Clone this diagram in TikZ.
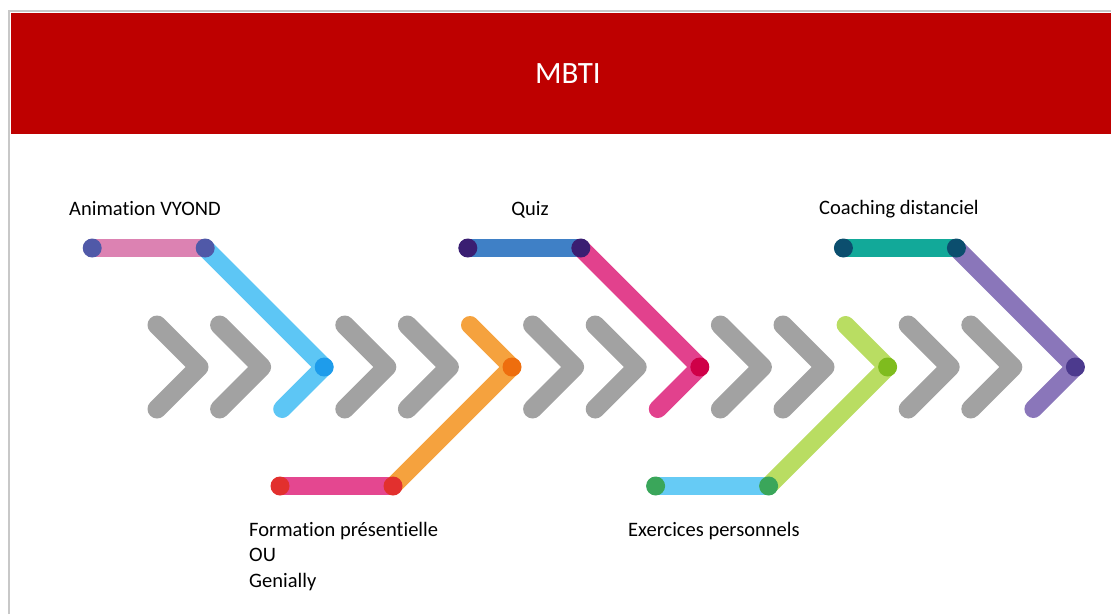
\documentclass[tikz,border=0pt]{standalone}
\usepackage{fontspec}
\setmainfont{Carlito}[Ligatures={NoCommon,NoContextual}]
\definecolor{titlered}{HTML}{BE0000}
\definecolor{framegray}{HTML}{C8C8C8}
\definecolor{chevgray}{HTML}{A2A2A2}
\definecolor{pinkA}{HTML}{DC82B2}
\definecolor{dotA}{HTML}{5059A8}
\definecolor{skyA}{HTML}{5DC6F5}
\definecolor{skyD}{HTML}{1E9CEB}
\definecolor{orangeA}{HTML}{F5A23E}
\definecolor{orangeD}{HTML}{EE6E0E}
\definecolor{magA}{HTML}{E44790}
\definecolor{dotB}{HTML}{E2302E}
\definecolor{blueC}{HTML}{3F80C6}
\definecolor{dotC}{HTML}{3A1E72}
\definecolor{pinkC}{HTML}{E2418D}
\definecolor{pinkD}{HTML}{CF0048}
\definecolor{greenA}{HTML}{B9DD62}
\definecolor{greenD}{HTML}{7FBC1E}
\definecolor{lblueA}{HTML}{66CBF5}
\definecolor{dotD}{HTML}{3AA65A}
\definecolor{tealA}{HTML}{12A999}
\definecolor{dotE}{HTML}{0B4E6E}
\definecolor{purpA}{HTML}{8A76BA}
\definecolor{purpD}{HTML}{4C3A8E}
\tikzset{
  lbl/.style={font=\fontsize{20.5}{25}\selectfont, text=black, inner sep=0pt, anchor=base west},
  chev/.style={draw=chevgray, line width=19pt, line cap=round, line join=round},
  arm/.style={line width=18pt, line cap=round},
  dot/.style={circle, inner sep=0pt, minimum size=19pt},
}
\begin{document}
\begin{tikzpicture}[x=1pt,y=-1pt]
\useasboundingbox (0,0) rectangle (1111,614);
% frame and title
\draw[framegray, line width=2.5pt] (9,614) -- (9,11) -- (1111,11);
\node[fill=titlered, minimum width=1100pt, minimum height=121pt, inner sep=0pt, anchor=north west] (title) at (11,13) {};
\node[font=\fontsize{31}{36}\selectfont, text=white, anchor=base, inner sep=0pt] (mbti) at (568,83) {MBTI};
% gray chevrons
\foreach \i in {0,1,3,4,6,7,9,10,12,13} {
  \draw[chev] ({157+62.6*\i},325) -- ({199+62.6*\i},367) -- ({157+62.6*\i},409);
}
% --- Animation VYOND (i=2)
\coordinate (bA) at (324.2,367); \coordinate (bB) at (282.2,409);
\coordinate (bT) at (205.2,248); \coordinate (bL) at (92.2,248);
\draw[arm, draw=pinkA] (bL) -- (bT);
\draw[arm, draw=skyA] (bT) -- (bA);
\draw[arm, draw=skyA] (bA) -- (bB);
\node[dot, fill=skyD] (bAd) at (bA) {};
\node[dot, fill=dotA] (bLd) at (bL) {};
\node[dot, fill=dotA] (bTd) at (bT) {};
% --- Formation (i=5)
\coordinate (oT) at (470,325); \coordinate (oA) at (512,367);
\coordinate (oD) at (393,486); \coordinate (oL) at (280,486);
\draw[arm, draw=magA] (oL) -- (oD);
\draw[arm, draw=orangeA] (oT) -- (oA);
\draw[arm, draw=orangeA] (oA) -- (oD);
\node[dot, fill=orangeD] (oAd) at (oA) {};
\node[dot, fill=dotB] (oLd) at (oL) {};
\node[dot, fill=dotB] (oDd) at (oD) {};
% --- Quiz (i=8)
\coordinate (pA) at (699.8,367); \coordinate (pB) at (657.8,409);
\coordinate (pT) at (580.8,248); \coordinate (pL) at (467.8,248);
\draw[arm, draw=blueC] (pL) -- (pT);
\draw[arm, draw=pinkC] (pT) -- (pA);
\draw[arm, draw=pinkC] (pA) -- (pB);
\node[dot, fill=pinkD] (pAd) at (pA) {};
\node[dot, fill=dotC] (pLd) at (pL) {};
\node[dot, fill=dotC] (pTd) at (pT) {};
% --- Exercices (i=11)
\coordinate (gT) at (845.6,325); \coordinate (gA) at (887.6,367);
\coordinate (gD) at (768.6,486); \coordinate (gL) at (655.6,486);
\draw[arm, draw=lblueA] (gL) -- (gD);
\draw[arm, draw=greenA] (gT) -- (gA);
\draw[arm, draw=greenA] (gA) -- (gD);
\node[dot, fill=greenD] (gAd) at (gA) {};
\node[dot, fill=dotD] (gLd) at (gL) {};
\node[dot, fill=dotD] (gDd) at (gD) {};
% --- Coaching (i=14)
\coordinate (vA) at (1075.4,367); \coordinate (vB) at (1033.4,409);
\coordinate (vT) at (956.4,248); \coordinate (vL) at (843.4,248);
\draw[arm, draw=tealA] (vL) -- (vT);
\draw[arm, draw=purpA] (vT) -- (vA);
\draw[arm, draw=purpA] (vA) -- (vB);
\node[dot, fill=purpD] (vAd) at (vA) {};
\node[dot, fill=dotE] (vLd) at (vL) {};
\node[dot, fill=dotE] (vTd) at (vT) {};
% labels
\node[lbl] (t1) at (69,215) {Animation VYOND};
\node[lbl, anchor=base] (t2) at (530,215) {Quiz};
\node[lbl] (t3) at (819,214) {Coaching distanciel};
\node[lbl] (t4a) at (249,536) {Formation présentielle};
\node[lbl] (t4b) at (249,561.5) {OU};
\node[lbl] (t4c) at (249,587) {Genially};
\node[lbl] (t5) at (628,536) {Exercices personnels};
\end{tikzpicture}
\end{document}
